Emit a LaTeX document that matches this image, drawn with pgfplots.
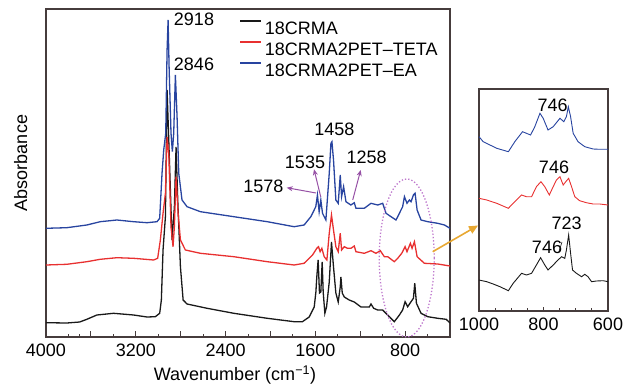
\documentclass[border=0pt]{standalone}
\usepackage{fontspec}
\setmainfont{Liberation Sans}
\usepackage{pgfplots}
\usepackage{pgfplotstable}
\pgfplotsset{compat=1.18}
\usetikzlibrary{arrows.meta}
\definecolor{cblack}{RGB}{25,25,25}
\definecolor{cred}{RGB}{232,48,48}
\definecolor{cblue}{RGB}{40,68,160}
\definecolor{cframe}{RGB}{70,60,60}
\definecolor{cpurple}{RGB}{150,80,165}
\definecolor{cellip}{RGB}{190,120,205}
\definecolor{corange}{RGB}{232,168,50}

\pgfplotstableread{
wn y
4000 14.3
3815 14
3700 15
3636 17.7
3547 22
3398 23.7
3219 22
3100 20
3026 20.3
2987 23.7
2972 37
2957 87
2936 120
2921 247
2906 197
2877 97
2856 130
2841 190
2826 137
2802 70
2778 37
2743 33
2564 28.7
2326 23.7
2028 18.7
1789 15.3
1715 15.3
1655 20
1610 30
1595 45
1587 60
1575 77
1563 44
1551 45
1539 75
1530 45
1515 23.7
1500 30
1476 55
1456 95
1438 70
1417 44
1396 35
1378 50
1372 60
1360 44
1342 40
1298 37
1253 35
1193 30
1119 30
1104 33
1080 28.7
1044 27
1000 27
941 20.3
896 15.3
851 22
822 27
800 35.3
777 30.3
747 35.3
726 38.7
714 53.7
699 33.7
658 23.7
598 20.3
509 18.7
434 17.7
400 14
}\blackmain

\pgfplotstableread{
wn y
4000 72
3815 72.7
3636 75.3
3517 77.7
3368 79.3
3219 78.7
3041 77
3005 78.7
2981 97
2957 123.7
2936 143.7
2921 200
2906 183.7
2886 110.3
2868 90.3
2856 110.3
2841 160.3
2823 123.7
2802 97
2758 87
2624 83.7
2326 80.3
2028 75.3
1789 72
1700 73.7
1625 82
1587 88.7
1572 90.3
1557 85.3
1542 88.7
1521 80.3
1497 77
1476 103.7
1456 122
1438 107
1417 90.3
1396 85.3
1378 103.7
1366 87
1342 90.3
1313 88.7
1283 88.7
1253 91
1238 85.3
1164 83.7
1104 86.3
1060 83.7
1021 86.3
985 80.3
955 80.3
896 75.3
866 78.7
830 83.7
800 90.3
783 85.3
753 93.7
738 88.7
717 95.3
693 80.3
628 73.7
509 73
400 71
}\redmain

\pgfplotstableread{
wn y
4000 108.7
3815 109.3
3636 112
3517 115.3
3368 117
3219 115.3
3100 114.3
3011 115.3
2987 118.7
2966 163.7
2951 187
2933 203.7
2921 287
2912 317
2903 270
2886 203.7
2874 185.3
2862 203.7
2847 262
2832 220
2817 163.7
2788 137
2743 130.3
2624 125.3
2326 120.3
2028 115.3
1789 110.3
1700 112
1640 120.3
1596 130.3
1581 142
1566 125.3
1551 137
1536 123.7
1506 117
1476 163.7
1461 193.7
1452 195.3
1438 177
1417 137
1396 133.7
1378 162
1366 140.3
1348 150.3
1327 135.3
1283 132
1253 134.3
1238 128.7
1164 128.7
1104 133.7
1044 132
1000 133.7
970 123.7
925 120.3
881 117
851 123.7
822 130.3
806 140.3
783 133.7
762 137
747 135.3
726 142
711 143.7
693 127
658 117
598 115.3
509 113.7
449 112
400 108.7
}\bluemain

\pgfplotstableread{
wn y
1000 31
976 29.3
956 27
935 24.3
909 20.3
894 27.7
868 37.7
853 36
837 37.7
822 46
809 53.3
796 46
786 41
770 46
755 51
744 54.3
734 52.7
729 61
722 76
716 57.7
710 41
698 37.7
682 34.3
672 36.7
662 34.3
651 29.3
636 30
615 30.3
600 29.3
}\blackinset

\pgfplotstableread{
wn y
1000 112.7
976 111
945 107.7
909 102.7
894 107.7
868 116
853 114.3
837 114.3
822 124.3
808 129.3
796 124.3
782 116
770 124.3
760 131
749 134.3
739 126
731 129.3
722 132.7
713 124.3
703 114.3
688 110.3
667 108.3
646 107
626 107
600 106
}\redinset

\pgfplotstableread{
wn y
1000 174.3
987 169.3
966 166
945 162.7
909 159.3
889 169.3
865 179.3
853 177.7
840 176
827 184.3
811 197.7
801 192.7
786 181
770 184.3
749 192.7
737 189.3
729 194.3
723 204.3
716 194.3
708 177.7
693 169.3
672 164.3
646 162
626 161.7
600 161.7
}\blueinset

\begin{document}
\fontsize{18}{20}\selectfont
\begin{tikzpicture}
\useasboundingbox (0pt,0pt) rectangle (636pt,386pt);
\pgfplotsset{
  every axis/.append style={
    scale only axis, x dir=reverse, clip=false,
    axis line style={cframe, line width=1.1pt},
    every tick/.style={cframe, line width=0.9pt},
    tick align=inside, xtick pos=bottom, ytick=\empty,
    /pgf/number format/assume math mode=true,
    /pgf/number format/1000 sep={},
    ticklabel style={font=\fontsize{18}{20}\selectfont, text=black},
    xticklabel style={yshift=-1pt},
  },
}
% main axis
\begin{axis}[
  at={(46pt,49pt)}, anchor=south west,
  width=404pt, height=328pt,
  xmin=400, xmax=4000, ymin=0, ymax=328,
  xtick={800,1600,2400,3200,4000},
  extra x ticks={1200,2000,2800,3600},
  extra x tick labels={},
  extra tick style={major tick length=5.7pt},
  minor xtick={600,1000,1400,1800,2200,2600,3000,3400,3700,3800},
  major tick length=5.7pt, minor tick length=2.7pt,
  legend style={at={(0.478,1)}, anchor=north west, yshift=-11.5pt,
    draw=none, fill=none, inner sep=0pt, outer sep=0pt,
    font=\fontsize{18}{20}\selectfont, row sep=7pt,
    nodes={inner sep=0pt, text height=13pt, text depth=0pt, anchor=west},
    legend cell align=left},
  legend image code/.code={\draw[#1, line width=1.8pt] (0pt,6.5pt) -- (21pt,6.5pt);},
]
\addplot[cblack, line width=1.3pt] table[x=wn,y=y] {\blackmain};
\addlegendentry{\hspace{3pt}18CRMA}
\addplot[cred, line width=1.3pt] table[x=wn,y=y] {\redmain};
\addlegendentry{\hspace{3pt}18CRMA2PET–TETA}
\addplot[cblue, line width=1.3pt] table[x=wn,y=y] {\bluemain};
\addlegendentry{\hspace{3pt}18CRMA2PET–EA}
\end{axis}
% inset axis
\begin{axis}[
  at={(479pt,75pt)}, anchor=south west,
  width=129pt, height=222pt,
  xmin=600, xmax=1000, ymin=0, ymax=222,
  xtick={600,800,1000},
  minor xtick={650,700,750,850,900,950},
  major tick length=4pt, minor tick length=3pt,
]
\addplot[cblack, line width=0.9pt] table[x=wn,y=y] {\blackinset};
\addplot[cred, line width=0.9pt] table[x=wn,y=y] {\redinset};
\addplot[cblue, line width=0.9pt] table[x=wn,y=y] {\blueinset};
\end{axis}
% annotations (image coordinates: y = 386 - y_img)
\node at (20.7pt,223pt) [rotate=90] {Absorbance};
\node at (235pt,11pt) {Wavenumber (cm\textsuperscript{−1})};
\node at (194pt,366.7pt) {2918};
\node at (194pt,322pt) {2846};
\node at (334.3pt,256.7pt) {1458};
\node at (305pt,223.7pt) {1535};
\node at (366.7pt,228.7pt) {1258};
\node at (263.3pt,200pt) {1578};
\draw[cpurple, line width=1pt, -{Stealth[length=6pt,width=5pt]}] (316pt,193pt) -- (286.7pt,198.3pt);
\draw[cpurple, line width=1pt, -{Stealth[length=6pt,width=5pt]}] (320.7pt,189.3pt) -- (314pt,216.7pt);
\draw[cpurple, line width=1pt, -{Stealth[length=6pt,width=5pt]}] (352.7pt,186pt) -- (360.7pt,216pt);
\draw[cellip, line width=1.3pt, dotted] (406.7pt,128pt) ellipse [x radius=27.5pt, y radius=79pt];
\draw[corange, line width=1.6pt, -{Triangle[length=9pt,width=8pt]}] (432.7pt,134.3pt) -- (478pt,160.5pt);
\node at (552.7pt,281pt) {746};
\node at (554pt,219pt) {746};
\node at (566.7pt,163pt) {723};
\node at (547pt,139pt) {746};
\draw[cblack, line width=0.6pt] (558.5pt,133pt) -- (562pt,144pt);
\end{tikzpicture}
\end{document}
